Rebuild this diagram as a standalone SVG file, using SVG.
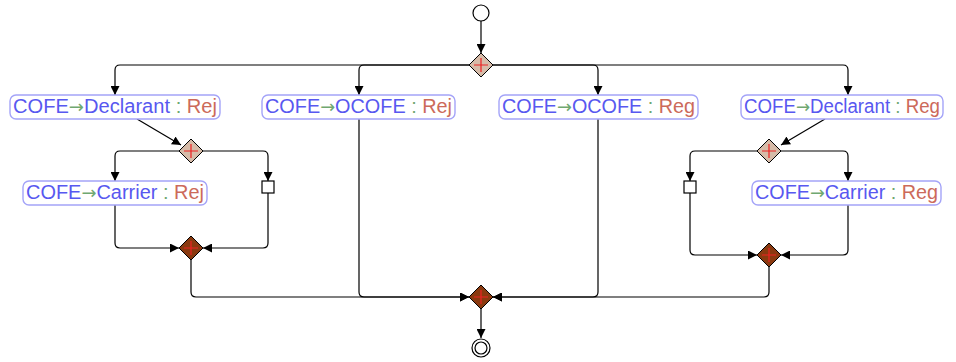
<svg xmlns="http://www.w3.org/2000/svg" width="956" height="362" viewBox="0 0 956 362">
<defs>
<marker id="ah" viewBox="0 0 10 10" refX="10" refY="5" markerWidth="9" markerHeight="9" markerUnits="userSpaceOnUse" orient="auto">
<path d="M0,0 L10,5 L0,10 z" fill="#000"/>
</marker>
<style>
.c{fill:none;stroke:#000;stroke-width:1.2;marker-end:url(#ah)}
.box{fill:#fff;stroke:#a4a4f8;stroke-width:1.4}
.t{font-family:"Liberation Sans","DejaVu Sans",sans-serif;font-size:20px;fill:#5858f0}
.g{fill:#70a870}
.a{fill:#70a870;font-family:"DejaVu Sans",sans-serif;font-size:18px}
.r{fill:#cc6a5a}
.gl{fill:#d6bba8;stroke:#000;stroke-width:1}
.gd{fill:#8a3a10;stroke:#000;stroke-width:1}
.x{stroke:#ee2222;stroke-width:1.2;fill:none}
.ev{fill:#fff;stroke:#000;stroke-width:1.2}
.sq{fill:#fff;stroke:#000;stroke-width:1.2}
</style>
</defs>
<g id="connectors">
<path class="c" d="M481,21 V53"/>
<path class="c" d="M469,65 H120 Q115,65 115,70 V95"/>
<path class="c" d="M469,65 H364 Q359,65 359,70 V95"/>
<path class="c" d="M493,65 H593 Q598,65 598,70 V95"/>
<path class="c" d="M493,65 H843 Q848,65 848,70 V95"/>
<path class="c" d="M137,119 L181,145"/>
<path class="c" d="M179,151 H120 Q115,151 115,156 V181"/>
<path class="c" d="M203,151 H263 Q268,151 268,156 V181"/>
<path class="c" d="M115,205 V243 Q115,248 120,248 H179"/>
<path class="c" d="M268,193 V243 Q268,248 263,248 H203"/>
<path class="c" d="M191,260 V292 Q191,297 196,297 H469"/>
<path class="c" d="M359,119 V292 Q359,297 364,297 H469"/>
<path class="c" d="M598,119 V292 Q598,297 593,297 H493"/>
<path class="c" d="M769,267 V292 Q769,297 764,297 H493"/>
<path class="c" d="M481,309 V338"/>
<path class="c" d="M825,119 L781,145"/>
<path class="c" d="M757,151 H695 Q690,151 690,156 V181"/>
<path class="c" d="M781,151 H843 Q848,151 848,156 V181"/>
<path class="c" d="M690,193 V250 Q690,255 695,255 H757"/>
<path class="c" d="M848,205 V250 Q848,255 843,255 H781"/>
</g>
<g id="start"><circle class="ev" cx="481" cy="13" r="8"/></g>
<g id="end"><circle class="ev" cx="481" cy="348" r="9"/><circle class="ev" cx="481" cy="348" r="6"/></g>
<g id="fork-top"><path class="gl" d="M481,53 L493,65 L481,77 L469,65 z"/><path class="x" d="M481,58 V72 M474,65 H488"/></g>
<g id="fork-left"><path class="gl" d="M191,139 L203,151 L191,163 L179,151 z"/><path class="x" d="M191,144 V158 M184,151 H198"/></g>
<g id="fork-right"><path class="gl" d="M769,139 L781,151 L769,163 L757,151 z"/><path class="x" d="M769,144 V158 M762,151 H776"/></g>
<g id="join-left"><path class="gd" d="M191,236 L203,248 L191,260 L179,248 z"/><path class="x" d="M191,241 V255 M184,248 H198"/></g>
<g id="join-right"><path class="gd" d="M769,243 L781,255 L769,267 L757,255 z"/><path class="x" d="M769,248 V262 M762,255 H776"/></g>
<g id="join-final"><path class="gd" d="M481,285 L493,297 L481,309 L469,297 z"/><path class="x" d="M481,290 V304 M474,297 H488"/></g>
<g id="sq-left"><rect class="sq" x="262" y="181" width="12" height="12"/></g>
<g id="sq-right"><rect class="sq" x="684" y="181" width="12" height="12"/></g>
<g id="n1"><rect class="box" x="10" y="95" width="210" height="24" rx="6"/><text class="t" x="13" y="113" textLength="204" lengthAdjust="spacingAndGlyphs">COFE<tspan class="a">→</tspan>Declarant<tspan class="g"> : </tspan><tspan class="r">Rej</tspan></text></g>
<g id="n2"><rect class="box" x="262" y="95" width="193" height="24" rx="6"/><text class="t" x="265" y="113" textLength="187" lengthAdjust="spacingAndGlyphs">COFE<tspan class="a">→</tspan>OCOFE<tspan class="g"> : </tspan><tspan class="r">Rej</tspan></text></g>
<g id="n3"><rect class="box" x="499" y="95" width="199" height="24" rx="6"/><text class="t" x="502" y="113" textLength="193" lengthAdjust="spacingAndGlyphs">COFE<tspan class="a">→</tspan>OCOFE<tspan class="g"> : </tspan><tspan class="r">Reg</tspan></text></g>
<g id="n4"><rect class="box" x="741" y="95" width="202" height="24" rx="6"/><text class="t" x="744" y="113" textLength="196" lengthAdjust="spacingAndGlyphs">COFE<tspan class="a">→</tspan>Declarant<tspan class="g"> : </tspan><tspan class="r">Reg</tspan></text></g>
<g id="n5"><rect class="box" x="23" y="181" width="184" height="24" rx="6"/><text class="t" x="26" y="199" textLength="178" lengthAdjust="spacingAndGlyphs">COFE<tspan class="a">→</tspan>Carrier<tspan class="g"> : </tspan><tspan class="r">Rej</tspan></text></g>
<g id="n6"><rect class="box" x="752" y="181" width="189" height="24" rx="6"/><text class="t" x="755" y="199" textLength="183" lengthAdjust="spacingAndGlyphs">COFE<tspan class="a">→</tspan>Carrier<tspan class="g"> : </tspan><tspan class="r">Reg</tspan></text></g>
</svg>
